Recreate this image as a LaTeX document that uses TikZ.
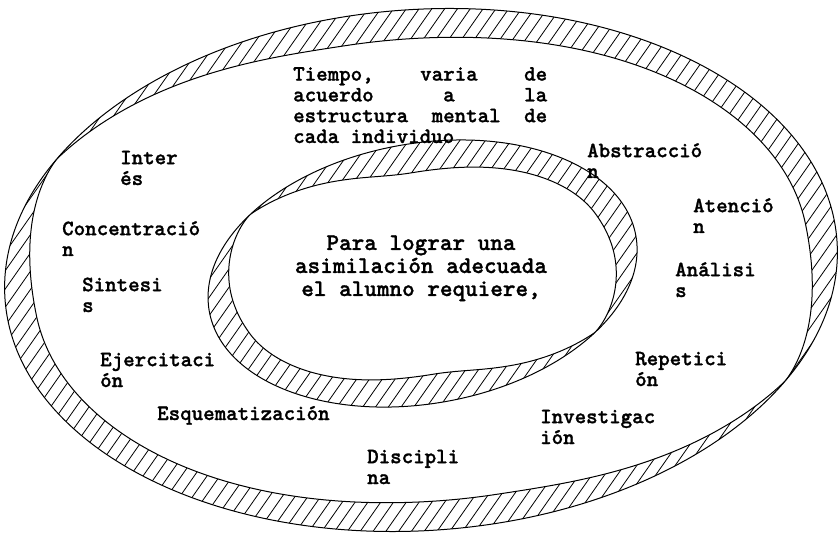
\documentclass[tikz,border=0pt]{standalone}
\usepackage{fontspec}
\newfontfamily\lblfont{lmmonolt10-bold.otf}[FakeBold=1.2]
\begin{document}
\begin{tikzpicture}[x=1pt,y=-1pt,
  ringline/.style={draw=black,line width=1pt,line join=round},
  hatchline/.style={draw=black,line width=0.8pt},
  lbl/.style={anchor=base west,inner sep=0pt,align=left,
    font=\lblfont\fontsize{21.9}{20.8}\selectfont},
  ctr/.style={anchor=base,inner sep=0pt,align=center,
    font=\lblfont\fontsize{24}{23}\selectfont},
  declare function={
    % rising and falling parts of the band width
    fup(\s,\L)=sin(90*min(\s,\L)/\L)*sqrt(abs(sin(90*min(\s,\L)/\L)));
    fdn(\s,\M)=sin(min(180-\s,\M)*90/\M);
    % outer ellipse, polar radius in units of 100px (rotation 4 deg)
    rA(\t)=4.17*2.605/sqrt((2.605*cos(\t-4))*(2.605*cos(\t-4))+(4.17*sin(\t-4))*(4.17*sin(\t-4)));
    sA(\t)=mod(\t+197,180);
    wA(\t)=0.29*fup(sA(\t),24)*fdn(sA(\t),55);
    % inner ring ellipse (rotation 10 deg)
    rB(\t)=2.166*1.301/sqrt((1.301*cos(\t-10))*(1.301*cos(\t-10))+(2.166*sin(\t-10))*(2.166*sin(\t-10)));
    sB(\t)=mod(\t+199,180);
    wB(\t)=0.29*fup(sB(\t),38)*fdn(sB(\t),65);
  }]
\useasboundingbox (0,0) rectangle (840,534);
% centres
\coordinate (c1) at (421,270);
\coordinate (c3) at (422.5,273.5);
% outer ring
\begin{scope}
  \clip[rotate around={4:(c1)}] (c1) ellipse [x radius=417, y radius=260.5];
  \foreach \i in {-30,...,66} \draw[hatchline] ({\i*12.8},534) -- ({\i*12.8+374},0);
  \path[fill=white,ringline] plot[domain=0:360,samples=721,variable=\t]
    ({421+100*(rA(\t)-wA(\t))*cos(\t)},{270-100*(rA(\t)-wA(\t))*sin(\t)}) -- cycle;
\end{scope}
\draw[ringline,rotate around={4:(c1)}] (c1) ellipse [x radius=417, y radius=260.5];
% inner ring
\begin{scope}
  \clip[rotate around={10:(c3)}] (c3) ellipse [x radius=216.6, y radius=130.1];
  \foreach \i in {-30,...,66} \draw[hatchline] ({\i*12.8+5},534) -- ({\i*12.8+379},0);
  \path[fill=white,ringline] plot[domain=0:360,samples=721,variable=\t]
    ({422.5+100*(rB(\t)-wB(\t))*cos(\t)},{273.5-100*(rB(\t)-wB(\t))*sin(\t)}) -- cycle;
\end{scope}
\draw[ringline,rotate around={10:(c3)}] (c3) ellipse [x radius=216.6, y radius=130.1];
% texts (anchor = baseline of the last line)
\node[lbl] (tiempo) at (293,143) {\makebox[254pt][l]{Tiempo,\hfill varia\hfill de}\\
  \makebox[254pt][l]{acuerdo\hfill a\hfill la}\\
  \makebox[254pt][l]{estructura\hfill mental\hfill de}\\
  cada individuo};
\node[ctr] (centro) at (421,296) {Para lograr una\\asimilación adecuada\\el alumno requiere,};
\node[lbl] (interes) at (120,185) {Inter\\és};
\node[lbl] (concentracion) at (62,256) {Concentració\\n};
\node[lbl] (sintesis) at (82,312) {Sintesi\\s};
\node[lbl] (ejercitacion) at (100,387) {Ejercitaci\\ón};
\node[lbl] (esquematizacion) at (157,420) {Esquematización};
\node[lbl] (disciplina) at (367,484) {Discipli\\na};
\node[lbl] (investigacion) at (540,444) {Investigac\\ión};
\node[lbl] (repeticion) at (635,386) {Repetici\\ón};
\node[lbl] (analisis) at (675,297) {Análisi\\s};
\node[lbl] (atencion) at (693,233) {Atenció\\n};
\node[lbl] (abstraccion) at (587,178) {Abstracció\\n};
\end{tikzpicture}
\end{document}
